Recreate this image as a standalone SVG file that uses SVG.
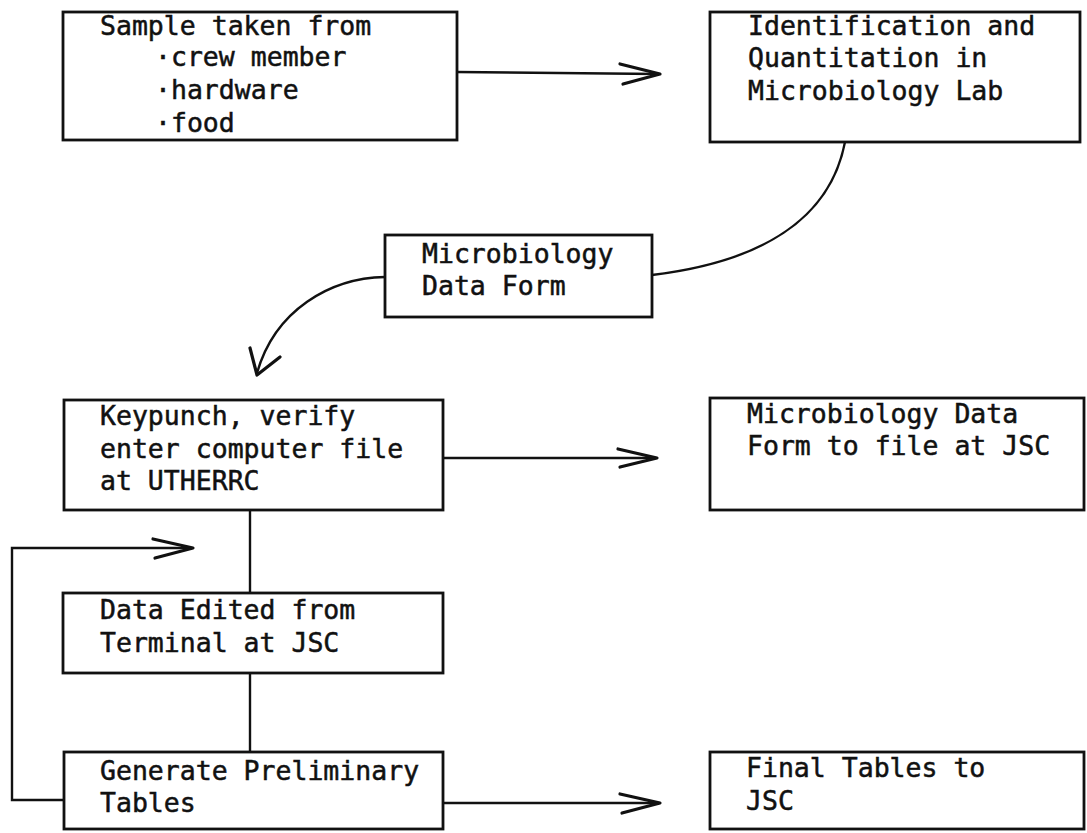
<svg xmlns="http://www.w3.org/2000/svg" width="1087" height="833" viewBox="0 0 1087 833">
<style>
.box{fill:#fff;stroke:#111;stroke-width:2.8}
.t{font-family:"DejaVu Sans Mono","Liberation Mono",monospace;font-size:26.5px;fill:#111;stroke:#111;stroke-width:0.5}
.c{fill:none;stroke:#111;stroke-width:2.4}
.h{fill:none;stroke:#111;stroke-width:3.2;stroke-linecap:round;stroke-linejoin:round}
</style>
<rect width="1087" height="833" fill="#fff"/>
<g id="connectors">
<path class="c" d="M457,72 L658,74"/>
<path class="h" d="M620,64 L660,74 L623,84"/>
<path class="c" d="M845,142 C830,220 760,262 652,275"/>
<path class="c" d="M385,277 C330,278 275,310 257,373"/>
<path class="h" d="M250,348 L257,375 L280,357"/>
<path class="c" d="M443,458 L655,458"/>
<path class="h" d="M618,449 L657,458 L620,467"/>
<path class="c" d="M250,510 L250,593"/>
<path class="c" d="M250,673 L250,752"/>
<path class="c" d="M63,800 L12,800 L12,548 L191,548"/>
<path class="h" d="M153,539 L193,548 L155,558"/>
<path class="c" d="M443,803 L658,803"/>
<path class="h" d="M620,794 L660,803 L622,813"/>
</g>
<g id="n1">
<rect class="box" x="63" y="12" width="394" height="128"/>
<text class="t" x="100" y="35">Sample taken from</text>
<text class="t" x="155" y="66">·crew member</text>
<text class="t" x="155" y="99">·hardware</text>
<text class="t" x="155" y="132">·food</text>
</g>
<g id="n2">
<rect class="box" x="710" y="12" width="370" height="130"/>
<text class="t" x="748" y="35">Identification and</text>
<text class="t" x="748" y="67">Quantitation in</text>
<text class="t" x="748" y="100">Microbiology Lab</text>
</g>
<g id="n3">
<rect class="box" x="385" y="235" width="267" height="82"/>
<text class="t" x="422" y="263">Microbiology</text>
<text class="t" x="422" y="295">Data Form</text>
</g>
<g id="n4">
<rect class="box" x="64" y="400" width="379" height="110"/>
<text class="t" x="100" y="425">Keypunch, verify</text>
<text class="t" x="100" y="458">enter computer file</text>
<text class="t" x="100" y="490">at UTHERRC</text>
</g>
<g id="n5">
<rect class="box" x="710" y="398" width="374" height="112"/>
<text class="t" x="747" y="423">Microbiology Data</text>
<text class="t" x="747" y="455">Form to file at JSC</text>
</g>
<g id="n6">
<rect class="box" x="63" y="593" width="380" height="80"/>
<text class="t" x="100" y="619">Data Edited from</text>
<text class="t" x="100" y="652">Terminal at JSC</text>
</g>
<g id="n7">
<rect class="box" x="64" y="752" width="379" height="77"/>
<text class="t" x="100" y="780">Generate Preliminary</text>
<text class="t" x="100" y="812">Tables</text>
</g>
<g id="n8">
<rect class="box" x="710" y="752" width="374" height="77"/>
<text class="t" x="746" y="777">Final Tables to</text>
<text class="t" x="746" y="810">JSC</text>
</g>
</svg>
